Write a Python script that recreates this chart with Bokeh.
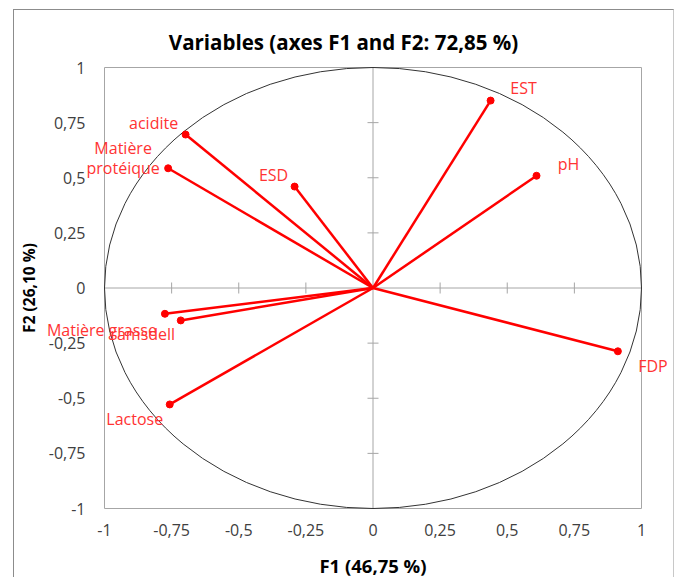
from bokeh.plotting import figure
from bokeh.models import Range1d, FixedTicker, ColumnDataSource, LabelSet, Label
from bokeh.core.properties import value
from bokeh.embed import file_html
from bokeh.resources import INLINE

# ---- data ----
variables = ["acidite", "Matière\nprotéique", "ESD", "EST", "pH", "FDP",
             "Matière grasse", "ramsdell", "Lactose"]
f1 = [-0.698, -0.763, -0.292, 0.438, 0.609, 0.912, -0.775, -0.716, -0.757]
f2 = [0.696, 0.543, 0.460, 0.850, 0.509, -0.287, -0.117, -0.147, -0.528]

ticks = [-1, -0.75, -0.5, -0.25, 0, 0.25, 0.5, 0.75, 1]
tick_labels = ["-1", "-0,75", "-0,5", "-0,25", "0", "0,25", "0,5", "0,75", "1"]
inner_ticks = [-0.75, -0.5, -0.25, 0.25, 0.5, 0.75]

title_text = "Variables (axes F1 and F2: 72,85 %)"
x_title = "F1 (46,75 %)"
y_title = "F2 (26,10 %)"

# label placement (pixels relative to point)
lab_dx = [-32, -45, -21, 33, 32, 35, -63, -38, -35]
lab_dy = [12, 10, 12, 13, 12, -15, -16, -14, -15]
LINE_H = 20

FONT = "Open Sans"

# ---- layout geometry (pixels) ----
W, H = 661, 568
PL, PR, PT, PB = 90, 627, 57, 498  # plot-area box inside the canvas
lo, hi = ticks[0], ticks[-1]
sx = (PR - PL) / (hi - lo)
sy = (PB - PT) / (hi - lo)
x_range = Range1d(lo - PL / sx, hi + (W - PR) / sx)
y_range = Range1d(lo - (H - PB) / sy, hi + PT / sy)

p = figure(width=W, height=H, output_backend="svg", toolbar_location=None,
           x_range=x_range, y_range=y_range, min_border=0)
p.styles = {"margin-left": "13px", "margin-top": "9px",
            "border-left": "1px solid #8c8c8c", "border-top": "1px solid #8c8c8c",
            "border-right": "1px solid #c8c8c8"}
p.background_fill_color = "white"
p.border_fill_color = "white"
p.outline_line_color = None
p.grid.visible = False

labels_map = {t: l for t, l in zip(ticks, tick_labels)}
for ax in (p.xaxis[0], p.yaxis[0]):
    ax.ticker = FixedTicker(ticks=ticks)
    ax.major_label_overrides = labels_map
    ax.bounds = (lo, hi)
    ax.fixed_location = lo
    ax.axis_line_color = None
    ax.major_tick_line_color = None
    ax.minor_tick_line_color = None
    ax.major_label_text_font = FONT
    ax.major_label_text_font_size = "16px"
    ax.major_label_text_color = "#404040"
    ax.axis_label_text_font = FONT
    ax.axis_label_text_font_style = "bold"
    ax.axis_label_text_color = "black"

p.xaxis[0].axis_label = x_title
p.yaxis[0].axis_label = y_title
p.xaxis[0].axis_label_text_font_size = "18.5px"
p.yaxis[0].axis_label_text_font_size = "15.5px"
p.xaxis[0].major_label_standoff = 9
p.xaxis[0].axis_label_standoff = 14
p.yaxis[0].major_label_standoff = 13
p.yaxis[0].axis_label_standoff = 6
p.yaxis[0].major_label_orientation = "horizontal"

# plot-area box
p.quad(left=[lo], right=[hi], bottom=[lo], top=[hi], fill_color=None,
       line_color="#a6a6a6", line_width=1)

# cross axes at origin with tick marks
p.segment(x0=[lo, 0], y0=[0, lo], x1=[hi, 0], y1=[0, hi], line_color="#a6a6a6",
          line_width=1)
zeros = [0] * len(inner_ticks)
p.scatter(x=zeros, y=inner_ticks, marker="dash", size=11, line_color="#a6a6a6",
          line_width=1)
p.scatter(x=inner_ticks, y=zeros, marker="dash", size=11, angle=1.5708,
          line_color="#a6a6a6", line_width=1)

# correlation circle
p.ellipse(x=0, y=0, width=2, height=2, fill_color=None, line_color="#333333",
          line_width=1)

src = ColumnDataSource(dict(x=f1, y=f2, x0=[0] * len(f1), y0=[0] * len(f1)))
p.segment(x0="x0", y0="y0", x1="x", y1="y", source=src, line_color="red",
          line_width=2.5)
p.scatter(x="x", y="y", source=src, size=7, fill_color="red", line_color="red")

# variable labels, one row per text line so every line is centred
lx, ly, lt, ldx, ldy = [], [], [], [], []
for name, xv, yv, dx, dy in zip(variables, f1, f2, lab_dx, lab_dy):
    lines = name.split("\n")
    n = len(lines)
    for i, line in enumerate(lines):
        lx.append(xv)
        ly.append(yv)
        lt.append(line)
        ldx.append(dx)
        ldy.append(dy + ((n - 1) / 2 - i) * LINE_H)
lab_src = ColumnDataSource(dict(x=lx, y=ly, text=lt, dx=ldx, dy=ldy))
p.add_layout(LabelSet(x="x", y="y", text="text", source=lab_src, x_offset="dx",
                      y_offset="dy", text_align="center", text_baseline="middle",
                      text_font=value(FONT), text_font_size="16px",
                      text_color="#ff3333"))

# chart title
p.add_layout(Label(x=0, y=hi, text=title_text, x_offset=-29.5, y_offset=26,
                   text_align="center", text_baseline="middle", text_font=FONT,
                   text_font_size="20.5px", text_font_style="bold",
                   text_color="black"))

open("out.html", "w").write(file_html(p, INLINE))
